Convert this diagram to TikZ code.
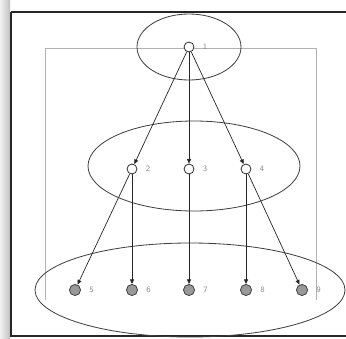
\documentclass[tikz,border=0pt]{standalone}
\usetikzlibrary{arrows.meta}
\begin{document}
\begin{tikzpicture}[x=0.03cm, y=-0.03cm, >={Triangle[length=4pt,width=3.5pt]},
    vert/.style={circle, draw=black!80, fill=white, inner sep=0pt, minimum size=8.5pt, line width=0.7pt},
    leaf/.style={circle, draw=black!75, fill=black!40, inner sep=0pt, minimum size=9.5pt, line width=0.7pt},
    lbl/.style={font=\sffamily\scriptsize, text=black!45, inner sep=1pt, label distance=6pt},
    edge/.style={->, draw=black!85, line width=0.6pt}]
    % Rahmen
    \useasboundingbox (0,0) rectangle (346,338);
    \shade[left color=black!5, right color=black!25] (0,0) rectangle (10,338);
    \draw[black!85, line width=2.2pt] (11,12) -- (350,12);
    \draw[black!85, line width=2.2pt] (11,12) -- (11,336) -- (350,336);
    \draw[black!30, line width=0.6pt] (45,300) -- (45,48) -- (316,48) -- (316,300);

    % Ebenen
    \draw[black!75, line width=0.7pt] (189,47) ellipse (52 and 33);
    \draw[black!75, line width=0.7pt] (194,166) ellipse (106 and 45);
    \draw[black!75, line width=0.7pt] (190,290) ellipse (155 and 47);

    % Knoten
    \node[vert, label={[lbl]right:1}] (v1) at (189,47) {};
    \foreach \i/\x in {2/132, 3/189, 4/246} {
        \node[vert, label={[lbl]right:\i}] (v\i) at (\x,169) {};
    }
    \foreach \i/\x in {5/75, 6/132, 7/189, 8/246, 9/302} {
        \node[leaf, label={[lbl]right:\i}] (v\i) at (\x,290) {};
    }

    % Kanten
    \foreach \a/\b in {1/2, 1/3, 1/4, 2/5, 2/6, 3/7, 4/8, 4/9} {
        \draw[edge] (v\a) -- (v\b);
    }
\end{tikzpicture}
\end{document}
